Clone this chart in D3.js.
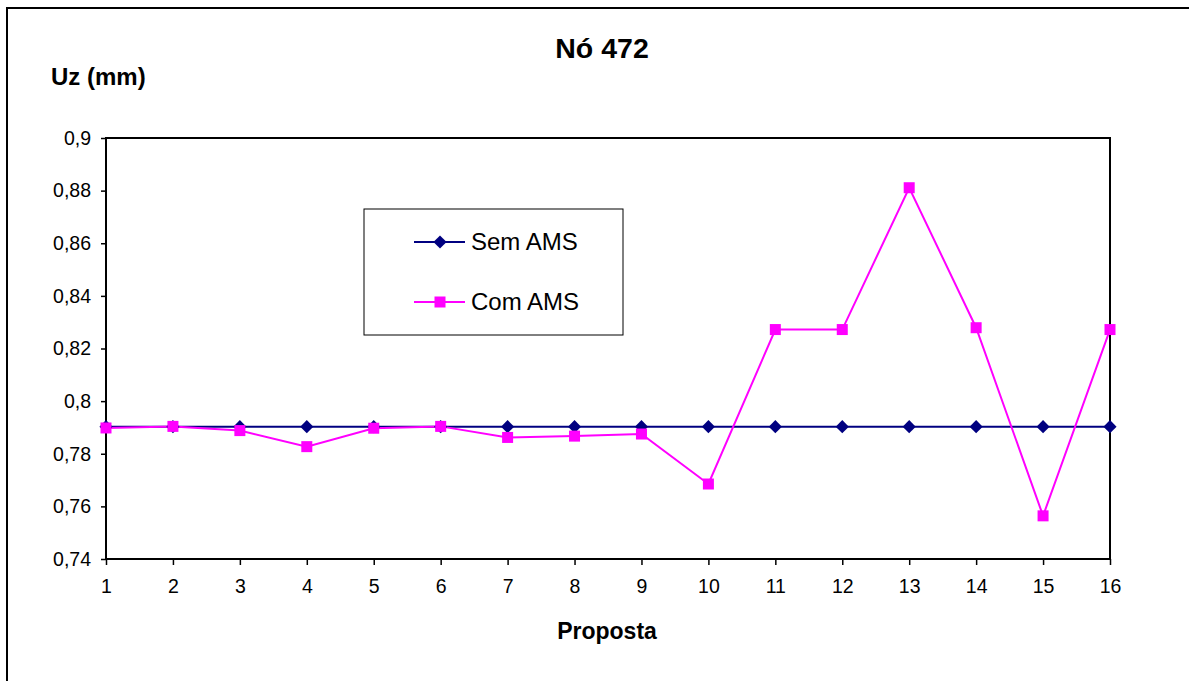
<!DOCTYPE html>
<html>
<head>
<meta charset="utf-8">
<script src="https://cdn.jsdelivr.net/npm/d3@7"></script>
<style>
    body { margin: 0; background: #fff; }
    svg text { font-family: Arial, "Liberation Sans", sans-serif; fill: #000; }
    .bold-title { font-weight: bold; }
</style>
</head>
<body>
<div id="chart"></div>
<script>
// data
const propostas = ['1','2','3','4','5','6','7','8','9','10','11','12','13','14','15','16'];
const semAMS = [0.7903, 0.7903, 0.7903, 0.7903, 0.7903, 0.7903, 0.7903, 0.7903,
                0.7903, 0.7903, 0.7903, 0.7903, 0.7903, 0.7903, 0.7903, 0.7903];
const comAMS = [0.7898, 0.7904, 0.7888, 0.7827, 0.7897, 0.7904, 0.7862, 0.7867,
                0.7875, 0.7685, 0.8272, 0.8272, 0.8811, 0.8279, 0.7564, 0.8272];
const yTicks = [0.74, 0.76, 0.78, 0.8, 0.82, 0.84, 0.86, 0.88, 0.9];
const seriesNames = ['Sem AMS', 'Com AMS'];
const seriesColors = ['#000080', '#ff00ff'];

class LineChart {
    constructor(_config) {
        this.config = {
            parentElement: _config.parentElement,
            containerWidth: _config.containerWidth || 1189,
            containerHeight: _config.containerHeight || 681,
            margin: _config.margin || { top: 138, right: 79, bottom: 122, left: 106 }
        };
        this.initVis();
    }

    initVis() {
        let vis = this;

        vis.width = vis.config.containerWidth - vis.config.margin.left - vis.config.margin.right;
        vis.height = vis.config.containerHeight - vis.config.margin.top - vis.config.margin.bottom;

        vis.svg = d3.select(vis.config.parentElement).append('svg')
            .attr('width', vis.config.containerWidth)
            .attr('height', vis.config.containerHeight);

        // outer chart frame (runs off the bottom/right edge like the original)
        vis.svg.append('rect')
            .attr('x', 7)
            .attr('y', 8)
            .attr('width', vis.config.containerWidth + 20)
            .attr('height', vis.config.containerHeight + 20)
            .attr('fill', '#fff')
            .attr('stroke', '#000')
            .attr('stroke-width', 2);

        vis.xScale = d3.scalePoint()
            .domain(propostas)
            .range([0, vis.width]);

        vis.yScale = d3.scaleLinear()
            .domain([0.74, 0.9])
            .range([vis.height, 0]);

        vis.xAxis = d3.axisBottom(vis.xScale)
            .tickSizeInner(6)
            .tickSizeOuter(0)
            .tickPadding(14);

        vis.yAxis = d3.axisLeft(vis.yScale)
            .tickValues(yTicks)
            .tickSizeInner(5)
            .tickSizeOuter(0)
            .tickPadding(10)
            .tickFormat(d => String(+d.toFixed(2)).replace('.', ','));

        vis.chart = vis.svg.append('g')
            .attr('transform', `translate(${vis.config.margin.left},${vis.config.margin.top})`);

        // plot area border
        vis.chart.append('rect')
            .attr('width', vis.width)
            .attr('height', vis.height)
            .attr('fill', 'none')
            .attr('stroke', '#000')
            .attr('stroke-width', 2);

        vis.xAxisG = vis.chart.append('g')
            .attr('class', 'axis x-axis')
            .attr('transform', `translate(0,${vis.height})`);

        vis.yAxisG = vis.chart.append('g')
            .attr('class', 'axis y-axis');

        // titles
        vis.svg.append('text')
            .attr('class', 'bold-title')
            .attr('x', 602)
            .attr('y', 58)
            .attr('text-anchor', 'middle')
            .style('font-size', '28.5px')
            .text('Nó 472');

        vis.svg.append('text')
            .attr('class', 'bold-title')
            .attr('x', 51)
            .attr('y', 85)
            .style('font-size', '24px')
            .text('Uz (mm)');

        vis.svg.append('text')
            .attr('class', 'bold-title')
            .attr('x', 607)
            .attr('y', 639)
            .attr('text-anchor', 'middle')
            .style('font-size', '23px')
            .text('Proposta');
    }

    renderVis() {
        let vis = this;

        vis.xAxisG.call(vis.xAxis)
            .call(g => g.select('.domain').remove());
        vis.yAxisG.call(vis.yAxis)
            .call(g => g.select('.domain').remove());

        vis.svg.selectAll('.axis line').attr('stroke', '#000').attr('stroke-width', 1.5);
        vis.svg.selectAll('.axis text')
            .style('font-size', '19.5px')
            .attr('fill', '#000');

        const series = [semAMS, comAMS];
        const line = d3.line()
            .x((d, i) => vis.xScale(propostas[i]))
            .y(d => vis.yScale(d));

        series.forEach((values, s) => {
            vis.chart.append('path')
                .datum(values)
                .attr('fill', 'none')
                .attr('stroke', seriesColors[s])
                .attr('stroke-width', 2)
                .attr('d', line);
        });

        // markers
        vis.chart.selectAll('.diamond')
            .data(semAMS)
            .join('path')
            .attr('class', 'diamond')
            .attr('d', d3.symbol().type(d3.symbolDiamond2).size(110))
            .attr('transform', (d, i) => `translate(${vis.xScale(propostas[i])},${vis.yScale(d)})`)
            .attr('fill', seriesColors[0]);

        vis.chart.selectAll('.square')
            .data(comAMS)
            .join('rect')
            .attr('class', 'square')
            .attr('x', (d, i) => vis.xScale(propostas[i]) - 5.5)
            .attr('y', d => vis.yScale(d) - 5.5)
            .attr('width', 11)
            .attr('height', 11)
            .attr('fill', seriesColors[1]);

        // legend
        const legend = vis.svg.append('g')
            .attr('transform', 'translate(364,209)');

        legend.append('rect')
            .attr('width', 259)
            .attr('height', 126)
            .attr('fill', '#fff')
            .attr('stroke', '#000')
            .attr('stroke-width', 1);

        const rows = legend.selectAll('.legend-row')
            .data(seriesNames)
            .join('g')
            .attr('class', 'legend-row')
            .attr('transform', (d, i) => `translate(0,${33 + i * 60})`);

        rows.append('line')
            .attr('x1', 50)
            .attr('x2', 101)
            .attr('stroke', (d, i) => seriesColors[i])
            .attr('stroke-width', 2);

        rows.filter((d, i) => i === 0).append('path')
            .attr('d', d3.symbol().type(d3.symbolDiamond2).size(110))
            .attr('transform', 'translate(76,0)')
            .attr('fill', seriesColors[0]);

        rows.filter((d, i) => i === 1).append('rect')
            .attr('x', 70.5)
            .attr('y', -5.5)
            .attr('width', 11)
            .attr('height', 11)
            .attr('fill', seriesColors[1]);

        rows.append('text')
            .attr('x', 107)
            .attr('y', 8)
            .style('font-size', '24px')
            .text(d => d);
    }
}

const chart = new LineChart({ parentElement: '#chart' });
chart.renderVis();
</script>
</body>
</html>
